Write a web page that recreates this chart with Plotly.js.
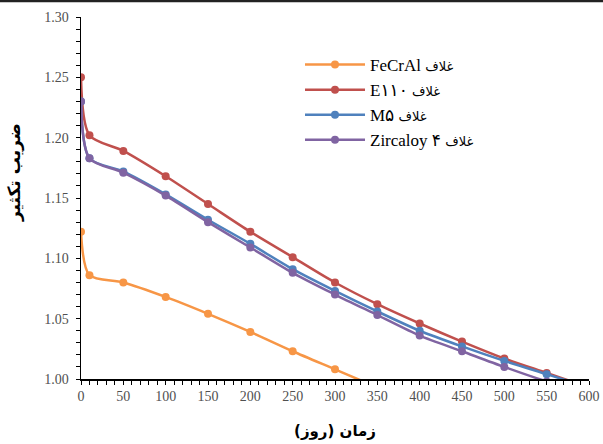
<!DOCTYPE html>
<html>
<head>
<meta charset="utf-8">
<script src="https://cdn.plot.ly/plotly-3.0.1.min.js"></script>
<style>html,body{margin:0;padding:0;background:#fff;}</style>
</head>
<body>
<div id="chart" style="width:603px;height:444px;"></div>
<script>
// Time (days)
const days = [0, 10, 50, 100, 150, 200, 250, 300, 350, 400, 450, 500, 550, 600];
const daysFeCrAl = [0, 10, 50, 100, 150, 200, 250, 300, 350];

// Multiplication factor per cladding
const kFeCrAl    = [1.122, 1.086, 1.080, 1.068, 1.054, 1.039, 1.023, 1.008, 0.993];
const kE110      = [1.250, 1.202, 1.189, 1.168, 1.145, 1.122, 1.101, 1.080, 1.062, 1.046, 1.031, 1.017, 1.005, 0.993];
const kM5        = [1.230, 1.183, 1.172, 1.153, 1.132, 1.112, 1.091, 1.073, 1.056, 1.040, 1.027, 1.015, 1.004, 0.993];
const kZircaloy4 = [1.230, 1.183, 1.171, 1.152, 1.130, 1.109, 1.088, 1.070, 1.053, 1.036, 1.023, 1.010, 0.998, 0.988];

const names = [
  "FeCrAl <span style='font-size:13px'>غلاف</span>",
  "E۱۱۰ <span style='font-size:13px'>غلاف</span>",
  "M۵ <span style='font-size:13px'>غلاف</span>",
  "Zircaloy ۴ <span style='font-size:13px'>غلاف</span>"
];
const colors = ["#F79646", "#C0504D", "#4F81BD", "#8064A2"];

const xs = [daysFeCrAl, days, days, days];
const ys = [kFeCrAl, kE110, kM5, kZircaloy4];

const traces = ys.map((y, i) => ({
  x: xs[i], y: y, name: names[i], type: 'scatter', mode: 'lines+markers',
  line: {color: colors[i], width: 2.5, shape: 'spline', smoothing: 0.8},
  marker: {color: colors[i], size: 8}
}));

const W = 508, H = 362;
const layout = {
  width: 603, height: 444,
  margin: {l: 81, r: 14, t: 17, b: 65},
  paper_bgcolor: '#fff', plot_bgcolor: '#fff',
  font: {family: "'Liberation Serif', 'DejaVu Sans', serif", color: '#404040'},
  showlegend: true,
  legend: {
    x: (300 - 81) / W, y: (379 - 47) / H, xanchor: 'left', yanchor: 'top',
    font: {size: 17, color: '#000', family: "'Liberation Serif', 'DejaVu Sans', serif"},
    bgcolor: 'rgba(0,0,0,0)', itemwidth: 60, tracegroupgap: 0
  },
  xaxis: {
    range: [0, 600], dtick: 50, tick0: 0,
    showgrid: false, zeroline: false,
    showline: true, linecolor: '#000', linewidth: 1.5,
    ticks: 'outside', ticklen: 4, tickcolor: '#000', tickwidth: 1,
    minor: {dtick: 10, ticks: 'outside', ticklen: 4, tickcolor: '#000', showgrid: false},
    tickfont: {size: 14, color: '#505050'},
    title: {text: '<b>زمان (روز)</b>', font: {size: 15, color: '#000', family: "'DejaVu Sans', sans-serif"}, standoff: 22}
  },
  yaxis: {
    range: [1.0, 1.3], dtick: 0.05, tick0: 1.0, tickformat: '.2f',
    showgrid: false, zeroline: false,
    showline: true, linecolor: '#000', linewidth: 1.5,
    ticks: 'outside', ticklen: 4, tickcolor: '#000', tickwidth: 1,
    minor: {dtick: 0.01, ticks: 'outside', ticklen: 4, tickcolor: '#000', showgrid: false},
    tickfont: {size: 14, color: '#505050'}, ticklabelstandoff: 4
  },
  annotations: [{
    text: '<b>ضریب تکثیر</b>', textangle: -90, showarrow: false,
    xref: 'paper', yref: 'paper', x: (14 - 81) / W, y: (379 - 173) / H,
    xanchor: 'center', yanchor: 'middle',
    font: {size: 17, color: '#000', family: "'DejaVu Sans', sans-serif"}
  }],
  shapes: [{
    type: 'line', xref: 'paper', yref: 'paper',
    x0: -81 / W, x1: 522 / W, y0: (379 - 1) / H, y1: (379 - 1) / H,
    line: {color: '#222', width: 2.5}
  }]
};

Plotly.newPlot('chart', traces, layout, {displayModeBar: false, staticPlot: true});
</script>
</body>
</html>
